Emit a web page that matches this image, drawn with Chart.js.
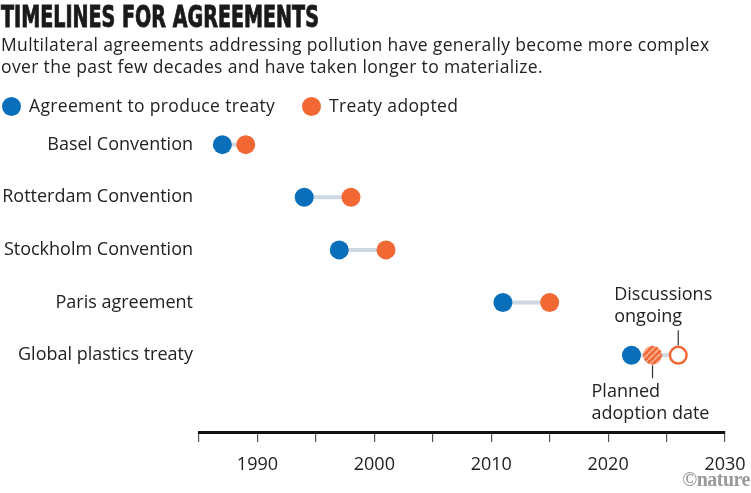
<!DOCTYPE html>
<html>
<head>
<meta charset="utf-8">
<script src="https://cdn.jsdelivr.net/npm/chart.js@4/dist/chart.umd.min.js"></script>
<style>
  body { margin: 0; background: #fff; }
  #wrap { position: relative; width: 751px; height: 493px; overflow: hidden; font-family: "Open Sans", sans-serif; color: #222; }
  #title { position: absolute; left: 1px; top: 0px; font-family: "DejaVu Sans Condensed", "DejaVu Sans", sans-serif; font-weight: bold; font-size: 30px; line-height: 34px; color: #1a1a1a; -webkit-text-stroke: 0.9px #1a1a1a; transform-origin: 0 0; white-space: nowrap; }
  #subtitle { position: absolute; left: 1px; top: 33px; font-size: 17.5px; line-height: 22px; letter-spacing: 0.35px; }
  .leg { position: absolute; top: 94px; font-size: 17.5px; line-height: 22px; letter-spacing: 0.35px; }
  .leg span { display: inline-block; width: 19px; height: 19px; border-radius: 50%; vertical-align: -4px; margin-right: 8px; }
  #chart { position: absolute; left: 0; top: 0; }
  #logo { position: absolute; right: 1px; top: 467px; font-family: "Liberation Serif", serif; font-weight: bold; font-size: 20px; line-height: 24px; color: #9a9a9a; letter-spacing: -0.5px; }
</style>
</head>
<body>
<div id="wrap">
  <canvas id="chart" width="751" height="493"></canvas>
  <div id="title">TIMELINES FOR AGREEMENTS</div>
  <div id="subtitle">Multilateral agreements addressing pollution have generally become more complex<br>over the past few decades and have taken longer to materialize.</div>
  <div class="leg" style="left:2px"><span style="background:#0a6fba"></span>Agreement to produce treaty</div>
  <div class="leg" style="left:302px"><span style="background:#f26835"></span>Treaty adopted</div>
  <div id="logo">©nature</div>
</div>
<script>
// données
const agreements = ['Basel Convention', 'Rotterdam Convention', 'Stockholm Convention', 'Paris agreement', 'Global plastics treaty'];
const startYears = [1987, 1994, 1997, 2011, 2022];
const adoptedYears = [1989, 1998, 2001, 2015, null];
const plannedYear = 2023.8;
const ongoingYear = 2026;
const xTicks = [1985, 1990, 1995, 2000, 2005, 2010, 2015, 2020, 2025, 2030];

const BLUE = '#0a6fba';
const ORANGE = '#f26835';
const FONT = 'Open Sans';

// titre condensé : on ajuste la largeur à celle de l'original
const titleEl = document.getElementById('title');
titleEl.style.transform = 'scaleX(' + (318 / titleEl.offsetWidth) + ')';

// motif hachuré pour la date prévue
function makeHatch() {
    const c = document.createElement('canvas');
    c.width = 6; c.height = 6;
    const g = c.getContext('2d');
    g.fillStyle = ORANGE;
    g.fillRect(0, 0, 6, 6);
    g.strokeStyle = '#f8ae90';
    g.lineWidth = 1.8;
    for (let k = -6; k <= 12; k += 6) {
        g.beginPath();
        g.moveTo(k, 6);
        g.lineTo(k + 6, 0);
        g.stroke();
    }
    return g.createPattern(c, 'repeat');
}

const lastIdx = agreements.length - 1;
const connectors = agreements.map((name, i) => ({
    type: 'line',
    data: [{x: startYears[i], y: i}, {x: adoptedYears[i] !== null ? adoptedYears[i] : ongoingYear, y: i}],
    borderColor: '#cdd8e2',
    borderWidth: 4,
    pointRadius: 0,
    order: 10
}));

const datasets = connectors.concat([
    {
        type: 'scatter',
        data: startYears.map((x, i) => ({x: x, y: i})),
        backgroundColor: BLUE, borderWidth: 0, pointRadius: 9.5, order: 1
    },
    {
        type: 'scatter',
        data: adoptedYears.map((x, i) => ({x: x, y: i})).filter(p => p.x !== null),
        backgroundColor: ORANGE, borderWidth: 0, pointRadius: 9.5, order: 1
    },
    {
        type: 'scatter',
        data: [{x: plannedYear, y: lastIdx}],
        backgroundColor: makeHatch(), borderWidth: 0, pointRadius: 9.5, order: 1
    },
    {
        type: 'scatter',
        data: [{x: ongoingYear, y: lastIdx}],
        backgroundColor: '#fff', borderColor: ORANGE, borderWidth: 2.5, pointRadius: 8.3, order: 1
    }
]);

// annotations pour le traité sur les plastiques
const calloutPlugin = {
    id: 'callouts',
    afterDatasetsDraw(chart) {
        const ctx = chart.ctx;
        const xs = chart.scales.x, ys = chart.scales.y;
        const yRow = ys.getPixelForValue(lastIdx);
        const xOn = xs.getPixelForValue(ongoingYear);
        const xPl = xs.getPixelForValue(plannedYear);
        ctx.save();
        ctx.strokeStyle = '#333';
        ctx.lineWidth = 1.2;
        ctx.beginPath();
        ctx.moveTo(xOn, yRow - 10); ctx.lineTo(xOn, yRow - 25);
        ctx.moveTo(xPl, yRow + 10); ctx.lineTo(xPl, yRow + 23);
        ctx.stroke();
        ctx.fillStyle = '#222';
        ctx.font = '18px "' + FONT + '"';
        ctx.textAlign = 'left';
        ctx.textBaseline = 'middle';
        ctx.fillText('Discussions', xOn - 64, yRow - 60);
        ctx.fillText('ongoing', xOn - 64, yRow - 38);
        ctx.fillText('Planned', xPl - 61, yRow + 37);
        ctx.fillText('adoption date', xPl - 61, yRow + 59);
        ctx.restore();
    }
};

new Chart(document.getElementById('chart'), {
    data: { datasets: datasets },
    options: {
        responsive: false,
        animation: false,
        events: [],
        layout: { padding: { top: 92, right: 26, bottom: 0, left: 0 } },
        plugins: { legend: { display: false }, tooltip: { enabled: false } },
        scales: {
            x: {
                type: 'linear',
                min: 1985, max: 2030,
                afterBuildTicks: (axis) => { axis.ticks = xTicks.map(v => ({value: v})); },
                grid: { drawOnChartArea: false, drawTicks: true, tickLength: 10, color: '#555', lineWidth: 1.2 },
                border: { display: true, color: '#111', width: 3 },
                ticks: {
                    color: '#222',
                    font: { family: FONT, size: 18 },
                    padding: 12,
                    maxRotation: 0,
                    autoSkip: false,
                    callback: (v) => (v % 10 === 0 && v > 1985) ? String(v) : ''
                },
                afterFit: (axis) => { axis.height = 61; axis.paddingLeft = 0; axis.paddingRight = 0; }
            },
            y: {
                type: 'linear',
                reverse: true,
                min: -1, max: 5.46,
                afterBuildTicks: (axis) => { axis.ticks = agreements.map((n, i) => ({value: i})); },
                grid: { display: false },
                border: { display: false },
                ticks: {
                    color: '#222',
                    font: { family: FONT, size: 18 },
                    padding: -2,
                    callback: (v) => agreements[v] || ''
                },
                afterFit: (axis) => { axis.width = 199; axis.paddingTop = 0; axis.paddingBottom = 0; }
            }
        }
    },
    plugins: [calloutPlugin]
});
</script>
</body>
</html>
